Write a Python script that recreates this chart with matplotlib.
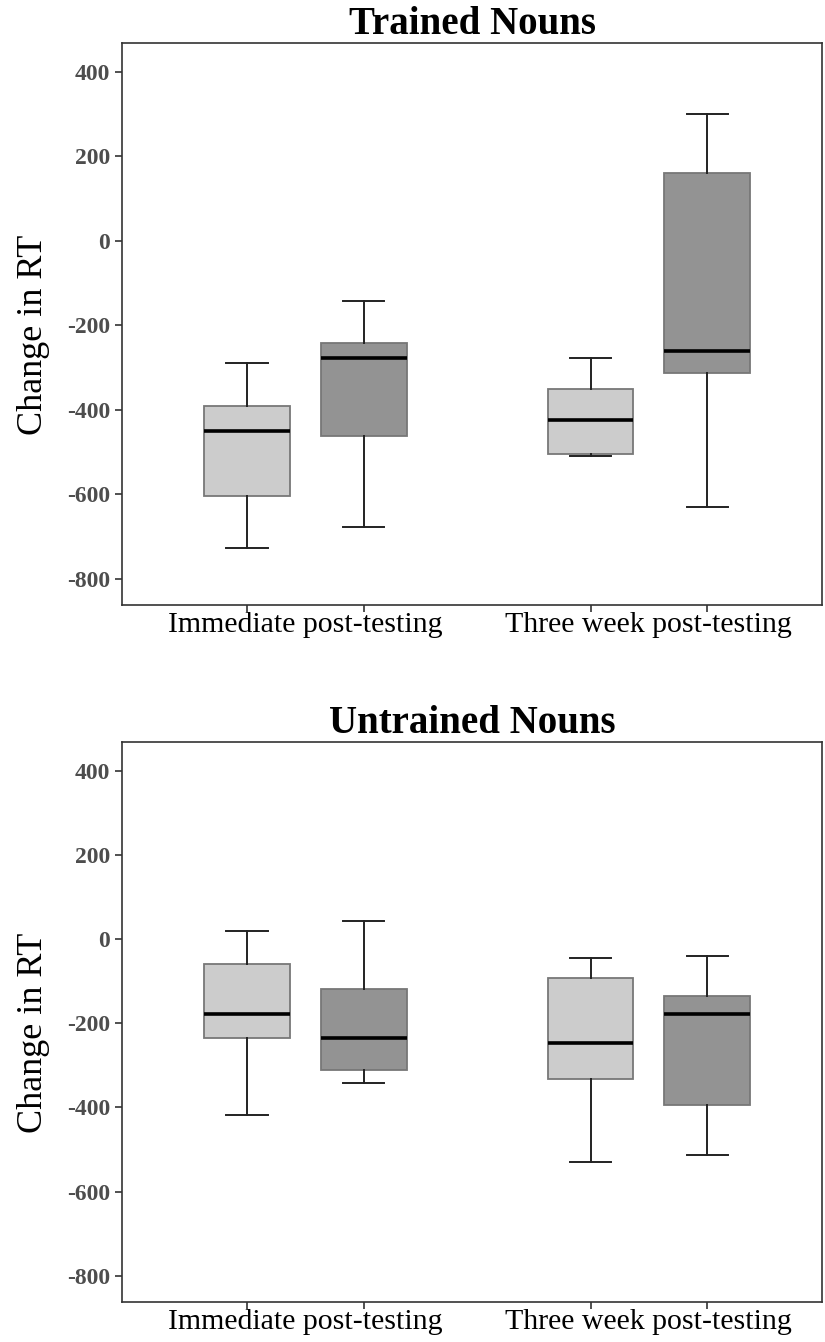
import numpy as np
import matplotlib.pyplot as plt

plt.rcParams['font.family'] = ['Liberation Serif', 'DejaVu Serif']

groups = ["Immediate post-testing", "Three week post-testing"]
titles = ["Trained Nouns", "Untrained Nouns"]
fills = ["#cccccc", "#939393"]

# box stats per panel, order: [immediate light, immediate dark, three-week light, three-week dark]
# each as (whisker low, q1, median, q3, whisker high)
trained = [
    (-728, -605, -451, -392, -290),
    (-677, -461, -278, -241, -143),
    (-509, -504, -424, -351, -278),
    (-629, -312, -262, 160, 300),
]
untrained = [
    (-419, -234, -179, -59, 18),
    (-341, -312, -236, -119, 44),
    (-530, -333, -247, -93, -44),
    (-512, -394, -179, -136, -41),
]
panels = [trained, untrained]

group_x = np.array([1.0, 2.0])
offset = 0.17
positions = [group_x[0] - offset, group_x[0] + offset, group_x[1] - offset, group_x[1] + offset]
box_colors = fills * 2

fig = plt.figure(figsize=(8.25, 13.42), dpi=100)
ax_rects = [[0.1479, 0.5492, 0.8485, 0.4188], [0.1479, 0.0298, 0.8485, 0.4173]]

for rect, data, title in zip(ax_rects, panels, titles):
    ax = fig.add_axes(rect)
    stats = []
    for lo, q1, med, q3, hi in data:
        stats.append(dict(whislo=lo, q1=q1, med=med, q3=q3, whishi=hi, fliers=[]))
    bp = ax.bxp(stats, positions=positions, widths=0.25, patch_artist=True,
                showfliers=False, manage_ticks=False,
                boxprops=dict(edgecolor="#777777", linewidth=1.3),
                whiskerprops=dict(color="#222222", linewidth=1.4),
                capprops=dict(color="#222222", linewidth=1.4),
                medianprops=dict(color="black", linewidth=2.6),
                capwidths=0.12)
    for patch, c in zip(bp['boxes'], box_colors):
        patch.set_facecolor(c)

    ax.set_xlim(0.466, 2.504)
    ax.set_ylim(-862, 468)
    ax.set_yticks([-800, -600, -400, -200, 0, 200, 400])
    ax.set_yticklabels([str(v) for v in [-800, -600, -400, -200, 0, 200, 400]],
                       fontweight="bold", fontsize=17, color="#4d4d4d")
    ax.set_xticks(positions)
    ax.set_xticklabels([])
    ax.set_xticks(group_x, minor=True)
    ax.set_xticklabels(groups, minor=True, fontsize=21.5)
    ax.tick_params(axis="x", which="minor", length=0, pad=5)
    ax.tick_params(axis="both", which="major", length=5, width=1.2, color="#333333")
    for s in ax.spines.values():
        s.set_color("#333333")
        s.set_linewidth(1.2)
    ax.set_ylabel("Change in RT", fontsize=26)
    ax.yaxis.set_label_coords(-0.103, 0.48)
    ax.set_title(title, fontsize=28, fontweight="bold", pad=5)

plt.savefig("out.png", dpi=100)
